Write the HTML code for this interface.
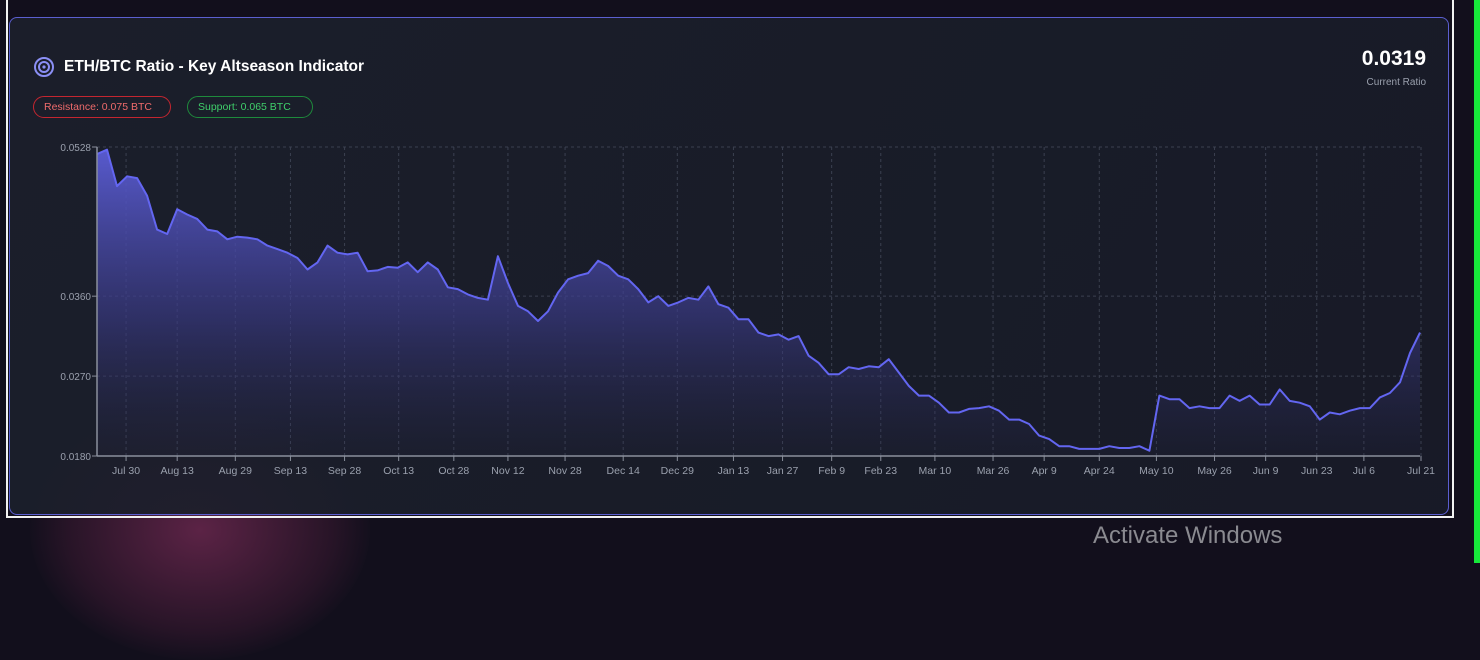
<!DOCTYPE html>
<html><head><meta charset="utf-8">
<style>
html,body{margin:0;padding:0;}
body{width:1480px;height:563px;overflow:hidden;background:#120f1c;position:relative;font-family:"Liberation Sans",sans-serif;}
.blob{position:absolute;left:30px;top:400px;width:340px;height:260px;border-radius:50%;background:radial-gradient(ellipse at center,rgba(110,40,80,0.8),rgba(80,30,60,0.35) 55%,rgba(18,15,28,0) 72%);}
.green{position:absolute;left:1474px;top:0;width:6px;height:563px;background:#17e83a;}
.frame{position:absolute;left:6px;top:-2px;width:1444px;height:518px;border:2px solid #f2f2f2;border-top:none;}
.card{position:absolute;left:9px;top:17px;width:1440px;height:498px;border:1px solid #5b5fd0;border-radius:8px;background:linear-gradient(120deg,rgba(28,32,44,0.9),rgba(25,29,41,0.92) 60%,rgba(24,27,40,0.9));box-sizing:border-box;overflow:hidden;}
.title{position:absolute;left:64px;top:58px;color:#fff;font-weight:bold;font-size:15.5px;}
.badge{position:absolute;top:96px;height:22px;border-radius:11px;font-size:10.5px;line-height:20px;padding:0 10px;box-sizing:border-box;}
.big{position:absolute;right:54px;top:47px;color:#fff;font-weight:bold;font-size:21px;}
.sub{position:absolute;right:54px;top:77px;color:#9aa0ad;font-size:10px;}
.aw{position:absolute;left:1093px;top:522px;color:#8a8a90;font-size:24px;}
</style></head><body>
<div class="blob"></div>
<div class="green"></div>
<div class="frame"></div>
<div class="card"></div>
<svg style="position:absolute;left:33px;top:56px" width="22" height="22">
<circle cx="11" cy="11" r="9" fill="none" stroke="#8b8ff5" stroke-width="2"/>
<circle cx="11" cy="11" r="5" fill="none" stroke="#8b8ff5" stroke-width="2"/>
<circle cx="11" cy="11" r="1.6" fill="#8b8ff5"/></svg>
<div class="title">ETH/BTC Ratio - Key Altseason Indicator</div>
<div class="badge" style="left:33px;width:138px;border:1px solid #c42630;color:#ef6b6b">Resistance: 0.075 BTC</div>
<div class="badge" style="left:187px;width:126px;border:1px solid #1e8a3c;color:#3fcf6b">Support: 0.065 BTC</div>
<div class="big">0.0319</div>
<div class="sub">Current Ratio</div>
<svg id="chart" style="position:absolute;left:0;top:0" width="1480" height="520"></svg>
<div class="aw">Activate Windows</div>
<script>
const ratioValues=[0.0520,0.0525,0.0484,0.0495,0.0493,0.0473,0.0435,0.0430,0.0458,0.0452,
0.0447,0.0435,0.0433,0.0424,0.0427,0.0426,0.0424,0.0417,0.0413,0.0409,
0.0403,0.0390,0.0398,0.0417,0.0409,0.0407,0.0409,0.0388,0.0389,0.0393,
0.0392,0.0398,0.0387,0.0398,0.0390,0.0370,0.0368,0.0362,0.0358,0.0356,
0.0405,0.0375,0.0349,0.0343,0.0332,0.0343,0.0364,0.0379,0.0383,0.0386,
0.0400,0.0394,0.0383,0.0379,0.0368,0.0353,0.0360,0.0349,0.0353,0.0358,
0.0356,0.0371,0.0351,0.0347,0.0334,
0.0334,0.0319,0.0315,0.0317,0.0311,0.0315,0.0293,0.0285,0.0272,0.0272,
0.0280,0.0278,0.0281,0.0280,0.0289,0.0274,0.0259,0.0248,0.0248,0.0240,
0.0229,0.0229,0.0233,0.0234,0.0236,0.0231,0.0221,0.0221,0.0216,0.0203,
0.0199,0.0191,0.0191,0.0188,0.0188,0.0188,0.0191,0.0189,0.0189,0.0191,
0.0186,0.0248,0.0244,0.0244,0.0234,0.0236,0.0234,0.0234,0.0248,0.0242,
0.0248,0.0238,0.0238,0.0255,0.0242,0.0240,0.0236,0.0221,0.0229,0.0227,
0.0231,0.0234,0.0234,0.0246,0.0251,0.0263,0.0296,0.0319];
const xTickLabels=["Jul 30","Aug 13","Aug 29","Sep 13","Sep 28","Oct 13","Oct 28","Nov 12","Nov 28","Dec 14","Dec 29","Jan 13","Jan 27","Feb 9","Feb 23","Mar 10","Mar 26","Apr 9","Apr 24","May 10","May 26","Jun 9","Jun 23","Jul 6","Jul 21"];
const xTickIndex=[2.9,8.0,13.8,19.3,24.7,30.1,35.6,41.0,46.7,52.5,57.9,63.5,68.4,73.3,78.2,83.6,89.4,94.5,100.0,105.7,111.5,116.6,121.7,126.4,132.1];
const yTicks=[0.0180,0.0270,0.0360,0.0528];
const yMin=0.018,yMax=0.0528;
const L=97,R=1420,T=147,B=456;
const NS="http://www.w3.org/2000/svg";
const svg=document.getElementById('chart');
function xS(i){return L+(R-L)*i/(ratioValues.length-1);}
function yS(v){return B-(v-yMin)/(yMax-yMin)*(B-T);}
function mk(t,a){const e=document.createElementNS(NS,t);for(const k in a)e.setAttribute(k,a[k]);svg.appendChild(e);return e;}
const defs=mk('defs',{});
defs.innerHTML='<linearGradient id="fg" x1="0" y1="0" x2="0" y2="1"><stop offset="0" stop-color="#5b5dd6" stop-opacity="0.95"/><stop offset="0.55" stop-color="#3a3a85" stop-opacity="0.65"/><stop offset="1" stop-color="#2a2a55" stop-opacity="0.1"/></linearGradient>';
yTicks.forEach(v=>{
const g=mk('line',{x1:L,x2:R,y1:yS(v),y2:yS(v),stroke:'#3b4050','stroke-dasharray':'3 3','stroke-width':1});


const t=mk('text',{x:L-6,y:yS(v)+4,'text-anchor':'end','font-size':10,fill:'#9aa0ad','font-family':'Liberation Sans, sans-serif'});
t.textContent=v.toFixed(4);


mk('line',{x1:L-5,x2:L,y1:yS(v),y2:yS(v),stroke:'#8a8f9c'});
});
xTickIndex.forEach((idx,k)=>{
const x=xS(idx);
const g=mk('line',{x1:x,x2:x,y1:T,y2:B,stroke:'#3b4050','stroke-dasharray':'3 3','stroke-width':1});


mk('line',{x1:x,x2:x,y1:B,y2:B+5,stroke:'#8a8f9c'});
const t=mk('text',{x:x,y:B+18,'text-anchor':'middle','font-size':10.5,fill:'#9aa0ad','font-family':'Liberation Sans, sans-serif'});
t.textContent=xTickLabels[k];


});
let d='';
ratioValues.forEach((v,i)=>{d+=(i?'L':'M')+xS(i).toFixed(1)+','+yS(v).toFixed(1);});
const area=mk('path',{d:d+'L'+R+','+B+'L'+L+','+B+'Z',fill:'url(#fg)'});


const line=mk('path',{d:d,fill:'none',stroke:'#6366f1','stroke-width':2,'stroke-linejoin':'round'});


const ax=mk('line',{x1:L,x2:L,y1:T,y2:B,stroke:'#8a8f9c','stroke-width':1.5});


const bx=mk('line',{x1:L,x2:R,y1:B,y2:B,stroke:'#8a8f9c','stroke-width':1.5});


</script>
</body></html>
